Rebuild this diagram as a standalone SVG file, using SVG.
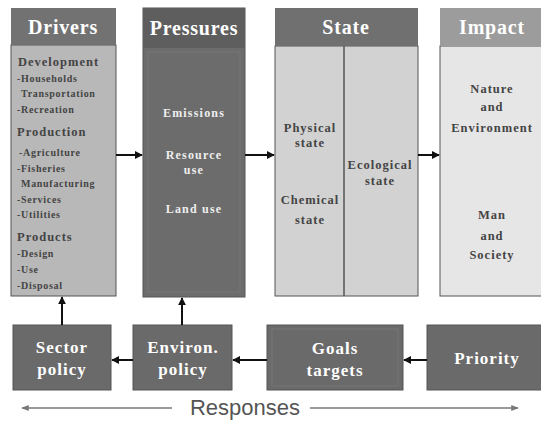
<svg xmlns="http://www.w3.org/2000/svg" width="541" height="421" viewBox="0 0 541 421">
<defs>
<marker id="ah" viewBox="0 0 10 10" refX="9" refY="5" markerWidth="4" markerHeight="4" orient="auto-start-reverse">
<path d="M0,0 L10,5 L0,10 z" fill="#111"/>
</marker>
<marker id="ag" viewBox="0 0 10 10" refX="9" refY="5" markerWidth="5" markerHeight="5" orient="auto-start-reverse">
<path d="M0,1 L10,5 L0,9 z" fill="#777"/>
</marker>
<style>
.t{font-family:"Liberation Serif","Times New Roman",serif;font-weight:bold;fill:#fff;text-anchor:middle}
.h{font-size:20px;letter-spacing:0.8px}
.s{font-family:"Liberation Serif","Times New Roman",serif;font-weight:bold;font-size:12.5px;letter-spacing:1px;fill:#444;text-anchor:middle}
.w{font-family:"Liberation Serif","Times New Roman",serif;font-weight:bold;font-size:12px;letter-spacing:1.2px;fill:#eee;text-anchor:middle}
.d{font-family:"Liberation Serif","Times New Roman",serif;font-weight:bold;fill:#444}
.b{font-size:12.5px;letter-spacing:1px}
.i{font-size:10px;letter-spacing:0.7px}
.bt{font-size:17px;letter-spacing:1px}
.c{stroke:#111;stroke-width:2;fill:none;marker-end:url(#ah)}
.edge{stroke:#555;stroke-width:1}
</style>
</defs>
<rect width="541" height="421" fill="#fff"/>

<g id="drivers">
<rect x="11" y="45" width="105" height="251" fill="#b8b8b8" class="edge"/>
<rect x="11" y="8" width="105" height="37" fill="#727272"/>
<text class="t h" x="63" y="34">Drivers</text>
<text class="d b" x="18" y="66">Development</text>
<text class="d i" x="17" y="82">-Households</text>
<text class="d i" x="21" y="97">Transportation</text>
<text class="d i" x="17" y="113">-Recreation</text>
<text class="d b" x="17" y="136">Production</text>
<text class="d i" x="19" y="156">-Agriculture</text>
<text class="d i" x="17" y="172">-Fisheries</text>
<text class="d i" x="21" y="187">Manufacturing</text>
<text class="d i" x="17" y="203">-Services</text>
<text class="d i" x="17" y="218">-Utilities</text>
<text class="d b" x="17" y="241">Products</text>
<text class="d i" x="17" y="257">-Design</text>
<text class="d i" x="17" y="273">-Use</text>
<text class="d i" x="17" y="289">-Disposal</text>
</g>

<g id="pressures">
<rect x="143" y="8" width="102" height="289" fill="#6c6c6c" class="edge"/>
<rect x="143" y="8" width="102" height="40" fill="#5e5e5e"/>
<rect x="148" y="52" width="92" height="240" fill="none" stroke="#767676" stroke-width="1"/>
<text class="t h" x="194" y="35">Pressures</text>
<text class="w" x="194" y="117">Emissions</text>
<text class="w" x="194" y="159">Resource</text>
<text class="w" x="194" y="174">use</text>
<text class="w" x="194" y="213">Land use</text>
</g>

<g id="state">
<rect x="275" y="46" width="143" height="250" fill="#d2d2d2" class="edge"/>
<line x1="344" y1="46" x2="344" y2="296" stroke="#555" stroke-width="1.5"/>
<rect x="275" y="8" width="143" height="38" fill="#707070"/>
<text class="t h" x="346" y="34">State</text>
<text class="s" x="310" y="132">Physical</text>
<text class="s" x="310" y="147">state</text>
<text class="s" x="310" y="204">Chemical</text>
<text class="s" x="310" y="224">state</text>
<text class="s" x="380" y="169">Ecological</text>
<text class="s" x="380" y="185">state</text>
</g>

<g id="impact">
<rect x="440" y="46" width="105" height="250" fill="#e6e6e6" class="edge"/>
<rect x="440" y="8" width="105" height="38" fill="#9c9c9c"/>
<text class="t h" x="492" y="34">Impact</text>
<text class="s" x="492" y="93">Nature</text>
<text class="s" x="492" y="111">and</text>
<text class="s" x="492" y="132">Environment</text>
<text class="s" x="492" y="219">Man</text>
<text class="s" x="492" y="240">and</text>
<text class="s" x="492" y="259">Society</text>
</g>

<g id="sector">
<rect x="13" y="325" width="98" height="65" fill="#6a6a6a" class="edge"/>
<text class="t bt" x="62" y="353">Sector</text>
<text class="t bt" x="62" y="375">policy</text>
</g>

<g id="environ">
<rect x="133" y="325" width="99" height="65" fill="#6a6a6a" class="edge"/>
<text class="t bt" x="183" y="353">Environ.</text>
<text class="t bt" x="183" y="375">policy</text>
</g>

<g id="goals">
<rect x="267" y="325" width="136" height="65" fill="#6a6a6a" class="edge"/>
<rect x="272" y="329" width="126" height="57" fill="none" stroke="#767676" stroke-width="1"/>
<text class="t bt" x="335" y="354">Goals</text>
<text class="t bt" x="335" y="376">targets</text>
</g>

<g id="priority">
<rect x="427" y="325" width="118" height="65" fill="#6a6a6a" class="edge"/>
<text class="t bt" x="487" y="364">Priority</text>
</g>

<g id="connectors">
<line class="c" x1="116" y1="155" x2="142" y2="155"/>
<line class="c" x1="245" y1="155" x2="274" y2="155"/>
<line class="c" x1="418" y1="155" x2="439" y2="155"/>
<line class="c" x1="62" y1="325" x2="62" y2="297"/>
<line class="c" x1="182" y1="325" x2="182" y2="298"/>
<line class="c" x1="133" y1="360" x2="112" y2="360"/>
<line class="c" x1="267" y1="360" x2="233" y2="360"/>
<line class="c" x1="427" y1="360" x2="404" y2="360"/>
<line x1="172" y1="408" x2="22" y2="408" stroke="#777" stroke-width="1.5" marker-end="url(#ag)"/>
<line x1="310" y1="408" x2="518" y2="408" stroke="#777" stroke-width="1.5" marker-end="url(#ag)"/>
</g>
<text x="245" y="415" font-family="'Liberation Sans',Arial,sans-serif" font-size="22" fill="#555" text-anchor="middle">Responses</text>
</svg>
